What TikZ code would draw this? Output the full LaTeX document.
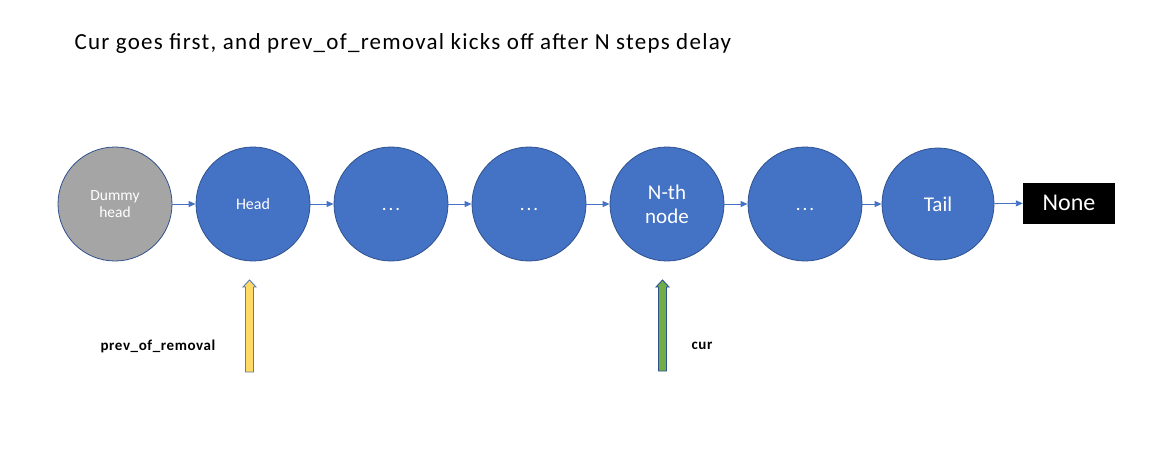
\documentclass[tikz,border=0pt]{standalone}
\usepackage{fontspec}
\setmainfont{Carlito}
\usetikzlibrary{arrows.meta}
\definecolor{nodeblue}{HTML}{4472C4}
\definecolor{edgeblue}{HTML}{2F528F}
\definecolor{dummygray}{HTML}{A5A5A5}
\definecolor{ptryellow}{HTML}{FFD966}
\definecolor{ptrgreen}{HTML}{70AD47}
\definecolor{ptredge}{HTML}{5B7BB4}
\tikzset{
  listnode/.style={circle, minimum size=114pt, inner sep=0pt, fill=nodeblue, draw=edgeblue, line width=0.8pt, text=white, align=center},
  link/.style={-{Triangle[length=7pt,width=6pt]}, nodeblue, line width=0.9pt},
  ptrlabel/.style={font=\bfseries\fontsize{15}{17}\selectfont\addfontfeature{LetterSpace=4}, anchor=west},
  dots/.style={font=\fontsize{19}{22}\selectfont\addfontfeature{LetterSpace=10}},
}
\newcommand{\lowdots}{\raisebox{-6pt}[0pt][0pt]{...}}
\begin{document}
\begin{tikzpicture}[x=1pt,y=-1pt]
\useasboundingbox (0,0) rectangle (1171,467);
\node[anchor=west, font=\fontsize{23}{27}\selectfont\addfontfeature{LetterSpace=5.5}] (title) at (71,43) {Cur goes first, and prev\_of\_removal kicks off after N steps delay};
\node[listnode, fill=dummygray, font=\fontsize{15.5}{17.5}\selectfont] (dummy) at (115,204) {Dummy\\head};
\node[listnode, font=\fontsize{16}{18}\selectfont] (head) at (253,204) {Head};
\node[listnode, dots] (d1) at (391,204) {\lowdots};
\node[listnode, dots] (d2) at (529,204) {\lowdots};
\node[listnode, font=\fontsize{21}{24}\selectfont] (nth) at (667,204) {N-th\\node};
\node[listnode, dots] (d3) at (805,204) {\lowdots};
\node[listnode, minimum size=112pt, font=\fontsize{21}{24}\selectfont] (tail) at (938,204) {Tail};
\node[fill=black, text=white, minimum width=92pt, minimum height=41pt, inner sep=0pt, font=\fontsize{24}{27}\selectfont] (none) at (1069,203) {None};
\draw[link] (dummy) -- (head);
\draw[link] (head) -- (d1);
\draw[link] (d1) -- (d2);
\draw[link] (d2) -- (nth);
\draw[link] (nth) -- (d3);
\draw[link] (d3) -- (tail);
\draw[link] (tail) -- (none);
% block arrows
\filldraw[fill=ptryellow, draw=ptredge, line width=0.9pt]
  (245.5,372) -- (245.5,287) -- (243,287) -- (249.5,280) -- (256,287) -- (253.5,287) -- (253.5,372) -- cycle;
\filldraw[fill=ptrgreen, draw=edgeblue, line width=0.9pt]
  (658.5,371) -- (658.5,287) -- (656,287) -- (662.5,280) -- (669,287) -- (666.5,287) -- (666.5,371) -- cycle;
\node[ptrlabel] (prevlbl) at (97,346) {prev\_of\_removal};
\node[ptrlabel] (curlbl) at (688,346) {cur};
\end{tikzpicture}
\end{document}
